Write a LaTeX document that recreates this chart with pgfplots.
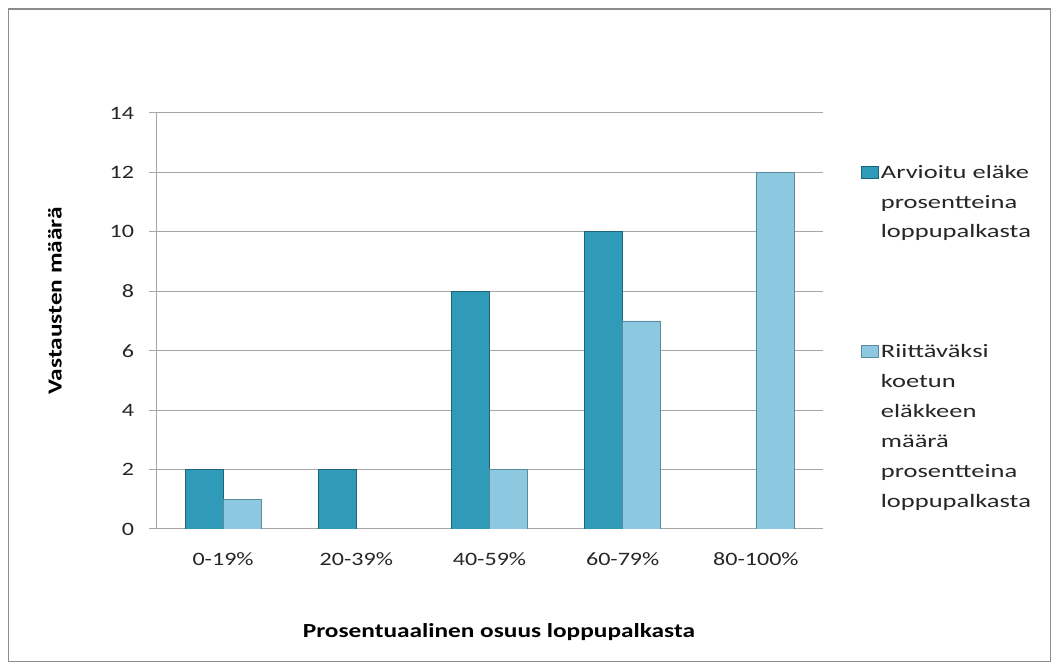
\documentclass[border=0pt]{standalone}
\usepackage{fontspec}
\setmainfont{Carlito}[FakeStretch=1.27]
\newfontfamily\legfont{Carlito}[FakeStretch=1.40]
\usepackage{pgfplots}
\pgfplotsset{compat=1.18}

\definecolor{frameline}{HTML}{8C8C8C}
\definecolor{gridline}{HTML}{A6A6A6}
\definecolor{darkFill}{HTML}{2F9BB8}
\definecolor{darkEdge}{HTML}{1D6478}
\definecolor{lightFill}{HTML}{8CC8DF}
\definecolor{lightEdge}{HTML}{5A8A9C}

% legend squares sit beside the first line of each entry
\pgfplotsset{
  legA/.style={legend image code/.code={
    \draw[##1, line width=0.6bp] (0bp,24bp) rectangle (17bp,36bp);}},
  legB/.style={legend image code/.code={
    \draw[##1, line width=0.6bp] (0bp,69bp) rectangle (17bp,81bp);}},
}

\begin{document}
\begin{tikzpicture}[x=1bp,y=1bp]
\useasboundingbox (0,0) rectangle (1059,664);
\draw[frameline, line width=1.5bp] (8.5,2.5) rectangle (1050.5,655);

\begin{axis}[
  at={(156.5bp,135bp)}, anchor=south west,
  scale only axis, width=666bp, height=416bp,
  ybar=0pt, bar width=38bp,
  xmin=-0.5, xmax=4.5, ymin=0, ymax=14,
  xtick={0,1,2,3,4},
  xticklabels={0-19\%,20-39\%,40-59\%,60-79\%,80-100\%},
  ytick={0,2,...,14},
  axis x line*=bottom, axis y line*=left,
  axis line style={gridline, line width=1bp},
  ymajorgrids, grid style={gridline, line width=1bp},
  tick align=outside, major tick length=8bp,
  major x tick style={draw=none},
  major y tick style={gridline, line width=1bp},
  tick label style={font=\fontsize{19}{23}\selectfont, text=black!85},
  /pgf/number format/assume math mode=true,
  x tick label style={yshift=-12bp},
  y tick label style={xshift=-11bp},
  xlabel={\textbf{Prosentuaalinen osuus loppupalkasta}},
  xlabel style={at={(axis description cs:0.514,-0.2476)}, anchor=center,
    font=\fontsize{20}{24}\selectfont},
  ylabel={\textbf{Vastausten määrä}},
  ylabel style={at={(axis description cs:-0.1524,0.548)}, anchor=center,
    font=\fontsize{20}{24}\selectfont},
  legend style={at={(axis description cs:1.0535,0.885)}, anchor=north west,
    draw=none, fill=none, font=\legfont\fontsize{19}{30}\selectfont,
    text=black!85, nodes={align=left}, row sep=101bp},
  legend cell align=left,
]
% zero values (80-100% and 20-39%) are left out, as in the reference nothing is drawn
\addplot[draw=darkEdge, fill=darkFill, line width=0.8bp, legA]
  coordinates {(0,2) (1,2) (2,8) (3,10)};
\addlegendentry{Arvioitu eläke\\prosentteina\\loppupalkasta}
\addplot[draw=lightEdge, fill=lightFill, line width=0.8bp, legB]
  coordinates {(0,1) (2,2) (3,7) (4,12)};
\addlegendentry{Riittäväksi\\koetun\\eläkkeen\\määrä\\prosentteina\\loppupalkasta}
\end{axis}
\end{tikzpicture}
\end{document}
